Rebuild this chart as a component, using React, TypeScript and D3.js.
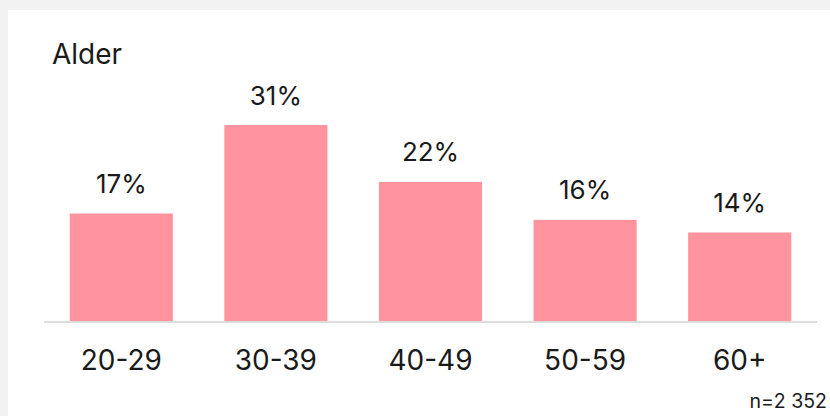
import React from 'react';
import * as d3 from 'd3';

const categories = ['20-29', '30-39', '40-49', '50-59', '60+'];
const shares = [17, 31, 22, 16, 14];
const title = 'Alder';
const footnote = 'n=2 352';

const width = 830;
const height = 416;
const baseline = 321;

const App = () => {
  const x = d3
    .scaleBand<string>()
    .domain(categories)
    .range([44, 817])
    .paddingInner(0.333)
    .paddingOuter(0.1665);

  const y = d3.scaleLinear().domain([0, 31]).range([baseline, 125]);

  const font = 'Inter, "Noto Sans", sans-serif';

  return (
    <svg
      width={width}
      height={height}
      style={{ position: 'fixed', left: 0, top: 0, display: 'block' }}
    >
      <rect x={0} y={0} width={width} height={height} fill="#f2f2f2" />
      <rect x={8} y={10} width={width - 8} height={height - 10} fill="#ffffff" />
      <text x={52} y={64} fontFamily={font} fontSize={28} fill="#1a1a1a">
        {title}
      </text>
      {categories.map((c, i) => (
        <g key={c}>
          <rect
            x={x(c)}
            y={y(shares[i])}
            width={x.bandwidth()}
            height={baseline - y(shares[i])}
            fill="#ff949e"
          />
          <text
            x={(x(c) as number) + x.bandwidth() / 2}
            y={y(shares[i]) - 20.5}
            textAnchor="middle"
            fontFamily={font}
            fontSize={26}
            fill="#1a1a1a"
          >
            {shares[i]}%
          </text>
          <text
            x={(x(c) as number) + x.bandwidth() / 2}
            y={370}
            textAnchor="middle"
            fontFamily={font}
            fontSize={28}
            fill="#1a1a1a"
          >
            {c}
          </text>
        </g>
      ))}
      <line x1={44} x2={817} y1={322} y2={322} stroke="#dddddd" strokeWidth={2} />
      <text x={827} y={407.5} textAnchor="end" fontFamily={font} fontSize={19.5} fill="#1a1a1a">
        {footnote}
      </text>
    </svg>
  );
};

export default App;
